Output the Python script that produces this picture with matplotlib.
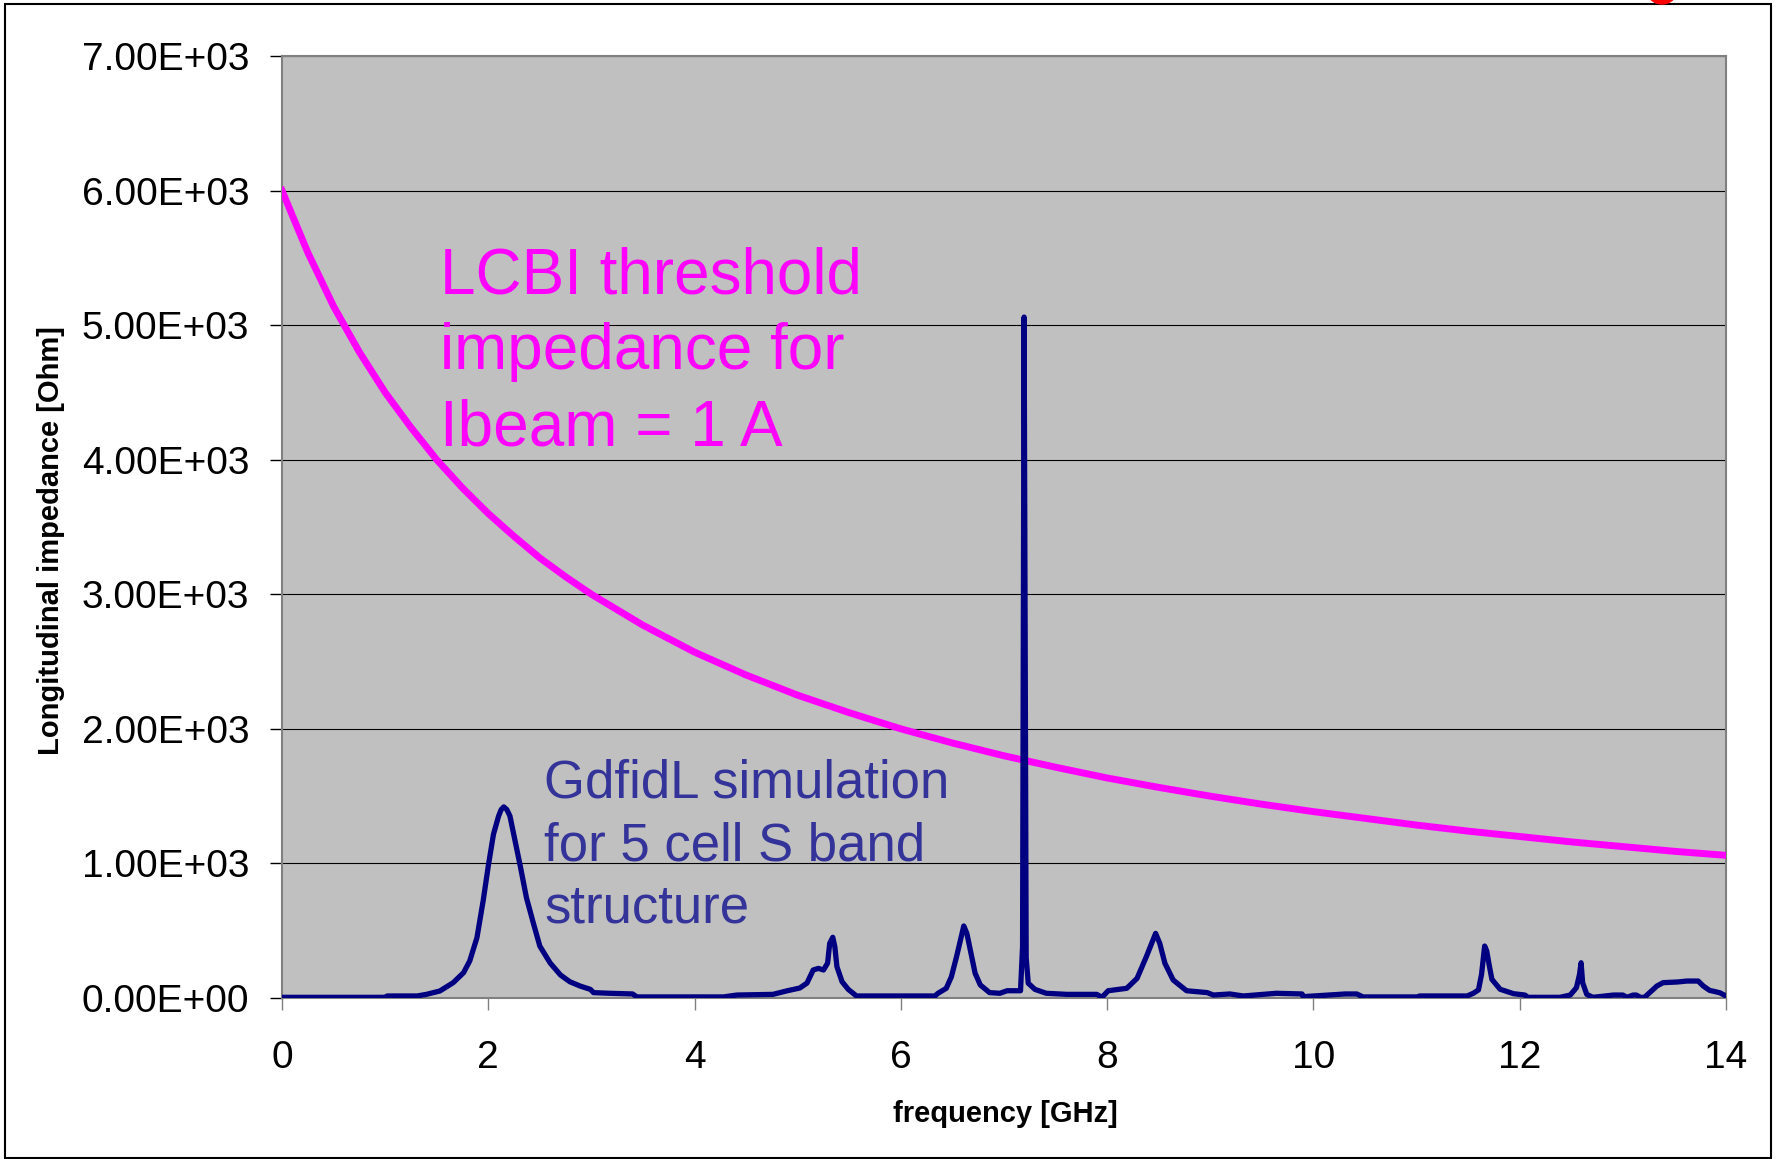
import matplotlib
matplotlib.use('Agg')
import matplotlib.pyplot as plt
from matplotlib.patches import Rectangle, Ellipse

plt.rcParams['font.family'] = ['Liberation Sans', 'DejaVu Sans']

# LCBI threshold impedance (Ibeam = 1 A)
lcbi_freq = [0, 0.25, 0.5, 0.75, 1.0, 1.25, 1.5, 1.75, 2.0, 2.25, 2.5, 2.75, 3.0,
             3.5, 4.0, 4.5, 5.0, 5.5, 6.0, 6.5, 7.0, 7.5, 8.0, 8.5, 9.0, 9.5,
             10.0, 10.5, 11.0, 11.5, 12.0, 12.5, 13.0, 13.5, 14.0]
lcbi_z = [6000, 5540, 5140, 4800, 4500, 4240, 4000, 3790, 3600, 3430, 3270, 3130, 3000,
          2770, 2570, 2400, 2250, 2120, 2000, 1895, 1800, 1715, 1635, 1565, 1500, 1440,
          1385, 1335, 1285, 1240, 1200, 1160, 1125, 1090, 1060]

# GdfidL simulation, 5 cell S band structure
sim_freq = [0.00, 1.00, 1.02, 1.31, 1.40, 1.53, 1.66, 1.76, 1.82, 1.89, 1.95, 2.00,
            2.05, 2.10, 2.125, 2.15, 2.18, 2.21, 2.26, 2.31, 2.37, 2.44, 2.50, 2.60,
            2.70, 2.79, 2.89, 2.99, 3.02, 3.18, 3.40, 3.44, 3.93, 4.28, 4.41, 4.76,
            4.90, 5.02, 5.09, 5.15, 5.20, 5.25, 5.29, 5.31, 5.34, 5.36, 5.38, 5.43,
            5.49, 5.57, 6.33, 6.36, 6.44, 6.49, 6.54, 6.59, 6.61, 6.64, 6.68, 6.72,
            6.77, 6.86, 6.96, 7.03, 7.16, 7.18, 7.195, 7.215, 7.235, 7.30, 7.41, 7.61,
            7.90, 7.95, 8.01, 8.19, 8.29, 8.38, 8.47, 8.51, 8.56, 8.64, 8.77, 8.97,
            9.03, 9.19, 9.32, 9.64, 9.89, 9.90, 10.31, 10.42, 10.48, 11.01, 11.03,
            11.49, 11.55, 11.60, 11.63, 11.65, 11.66, 11.68, 11.70, 11.73, 11.81,
            11.94, 12.05, 12.08, 12.39, 12.49, 12.55, 12.58, 12.595, 12.61, 12.65,
            12.71, 12.91, 13.00, 13.04, 13.10, 13.13, 13.17, 13.21, 13.33, 13.39,
            13.53, 13.62, 13.73, 13.78, 13.84, 13.94, 14.00]
sim_z = [5, 5, 15, 15, 27, 52, 114, 188, 275, 448, 721, 981,
         1216, 1352, 1400, 1420, 1400, 1352, 1167, 981, 745, 548, 385, 260,
         171, 121, 89, 64, 40, 35, 30, 8, 8, 8, 22, 27,
         54, 74, 111, 208, 220, 208, 260, 406, 451, 381, 233, 121,
         64, 15, 15, 35, 72, 158, 307, 468, 535, 480, 332, 184,
         97, 40, 35, 54, 54, 380, 5060, 300, 110, 64, 35, 27,
         27, 5, 54, 72, 146, 307, 480, 406, 258, 134, 54, 40,
         22, 30, 15, 35, 30, 10, 30, 30, 8, 8, 15,
         15, 35, 60, 176, 312, 386, 350, 262, 139, 65,
         32, 22, 5, 5, 22, 77, 176, 262, 114, 27,
         5, 22, 22, 5, 22, 22, 5, 5, 89, 114,
         119, 126, 126, 89, 57, 39, 15]

x_ticks = [0, 2, 4, 6, 8, 10, 12, 14]
y_ticks = [0, 1000, 2000, 3000, 4000, 5000, 6000, 7000]

W, H = 1776, 1159
fig = plt.figure(figsize=(W / 100, H / 100), dpi=100)
ax = fig.add_axes([282 / W, 1 - 998 / H, 1444 / W, 942 / H])

ax.set_facecolor('#C0C0C0')
ax.plot(lcbi_freq, lcbi_z, color='#FF00FF', lw=5.0, zorder=3, solid_joinstyle='round')
ax.plot(sim_freq, sim_z, color='#000080', lw=3.8, zorder=4, solid_joinstyle='round')

ax.set_xlim(0, 14)
ax.set_ylim(0, 7000)
ax.set_xticks(x_ticks)
ax.set_yticks(y_ticks)
ax.set_yticklabels(['{:.2E}'.format(v) for v in y_ticks])
ax.yaxis.grid(True, color='black', lw=0.8)
ax.set_axisbelow(True)

for s in ax.spines.values():
    s.set_color('#808080')
    s.set_linewidth(1.5)

ax.tick_params(axis='y', direction='out', length=8.6, width=1, color='black',
               labelsize=28, pad=15)
ax.tick_params(axis='x', direction='out', length=8.6, width=1, color='#808080',
               labelsize=28, pad=21.7)

ax.text(1.53, 4800, 'LCBI threshold\nimpedance for\nIbeam = 1 A', color='#FF00FF',
        fontsize=46, ha='left', va='center', linespacing=1.34)
ax.text(2.545, 1127, 'GdfidL simulation\nfor 5 cell S band\nstructure', color='#333399',
        fontsize=38, ha='left', va='center', linespacing=1.32)

fig.text(51 / W, 1 - 541 / H, 'Longitudinal impedance [Ohm]', rotation=90,
         fontsize=21, fontweight='bold', ha='center', va='center')
fig.text(1005 / W, 1 - 1114 / H, 'frequency [GHz]', fontsize=21, fontweight='bold',
         ha='center', va='center')

# outer frame and the red dot cut off at the top
fig.patches.append(Rectangle((5 / W, 1 / H), 1766 / W, 1154 / H, transform=fig.transFigure,
                             fill=False, ec='black', lw=1.5))
fig.patches.append(Ellipse((1662 / W, 1 + 11.75 / H), 31.5 / W, 31.5 / H,
                           transform=fig.transFigure, color='red'))

fig.savefig('out.png', dpi=100)
